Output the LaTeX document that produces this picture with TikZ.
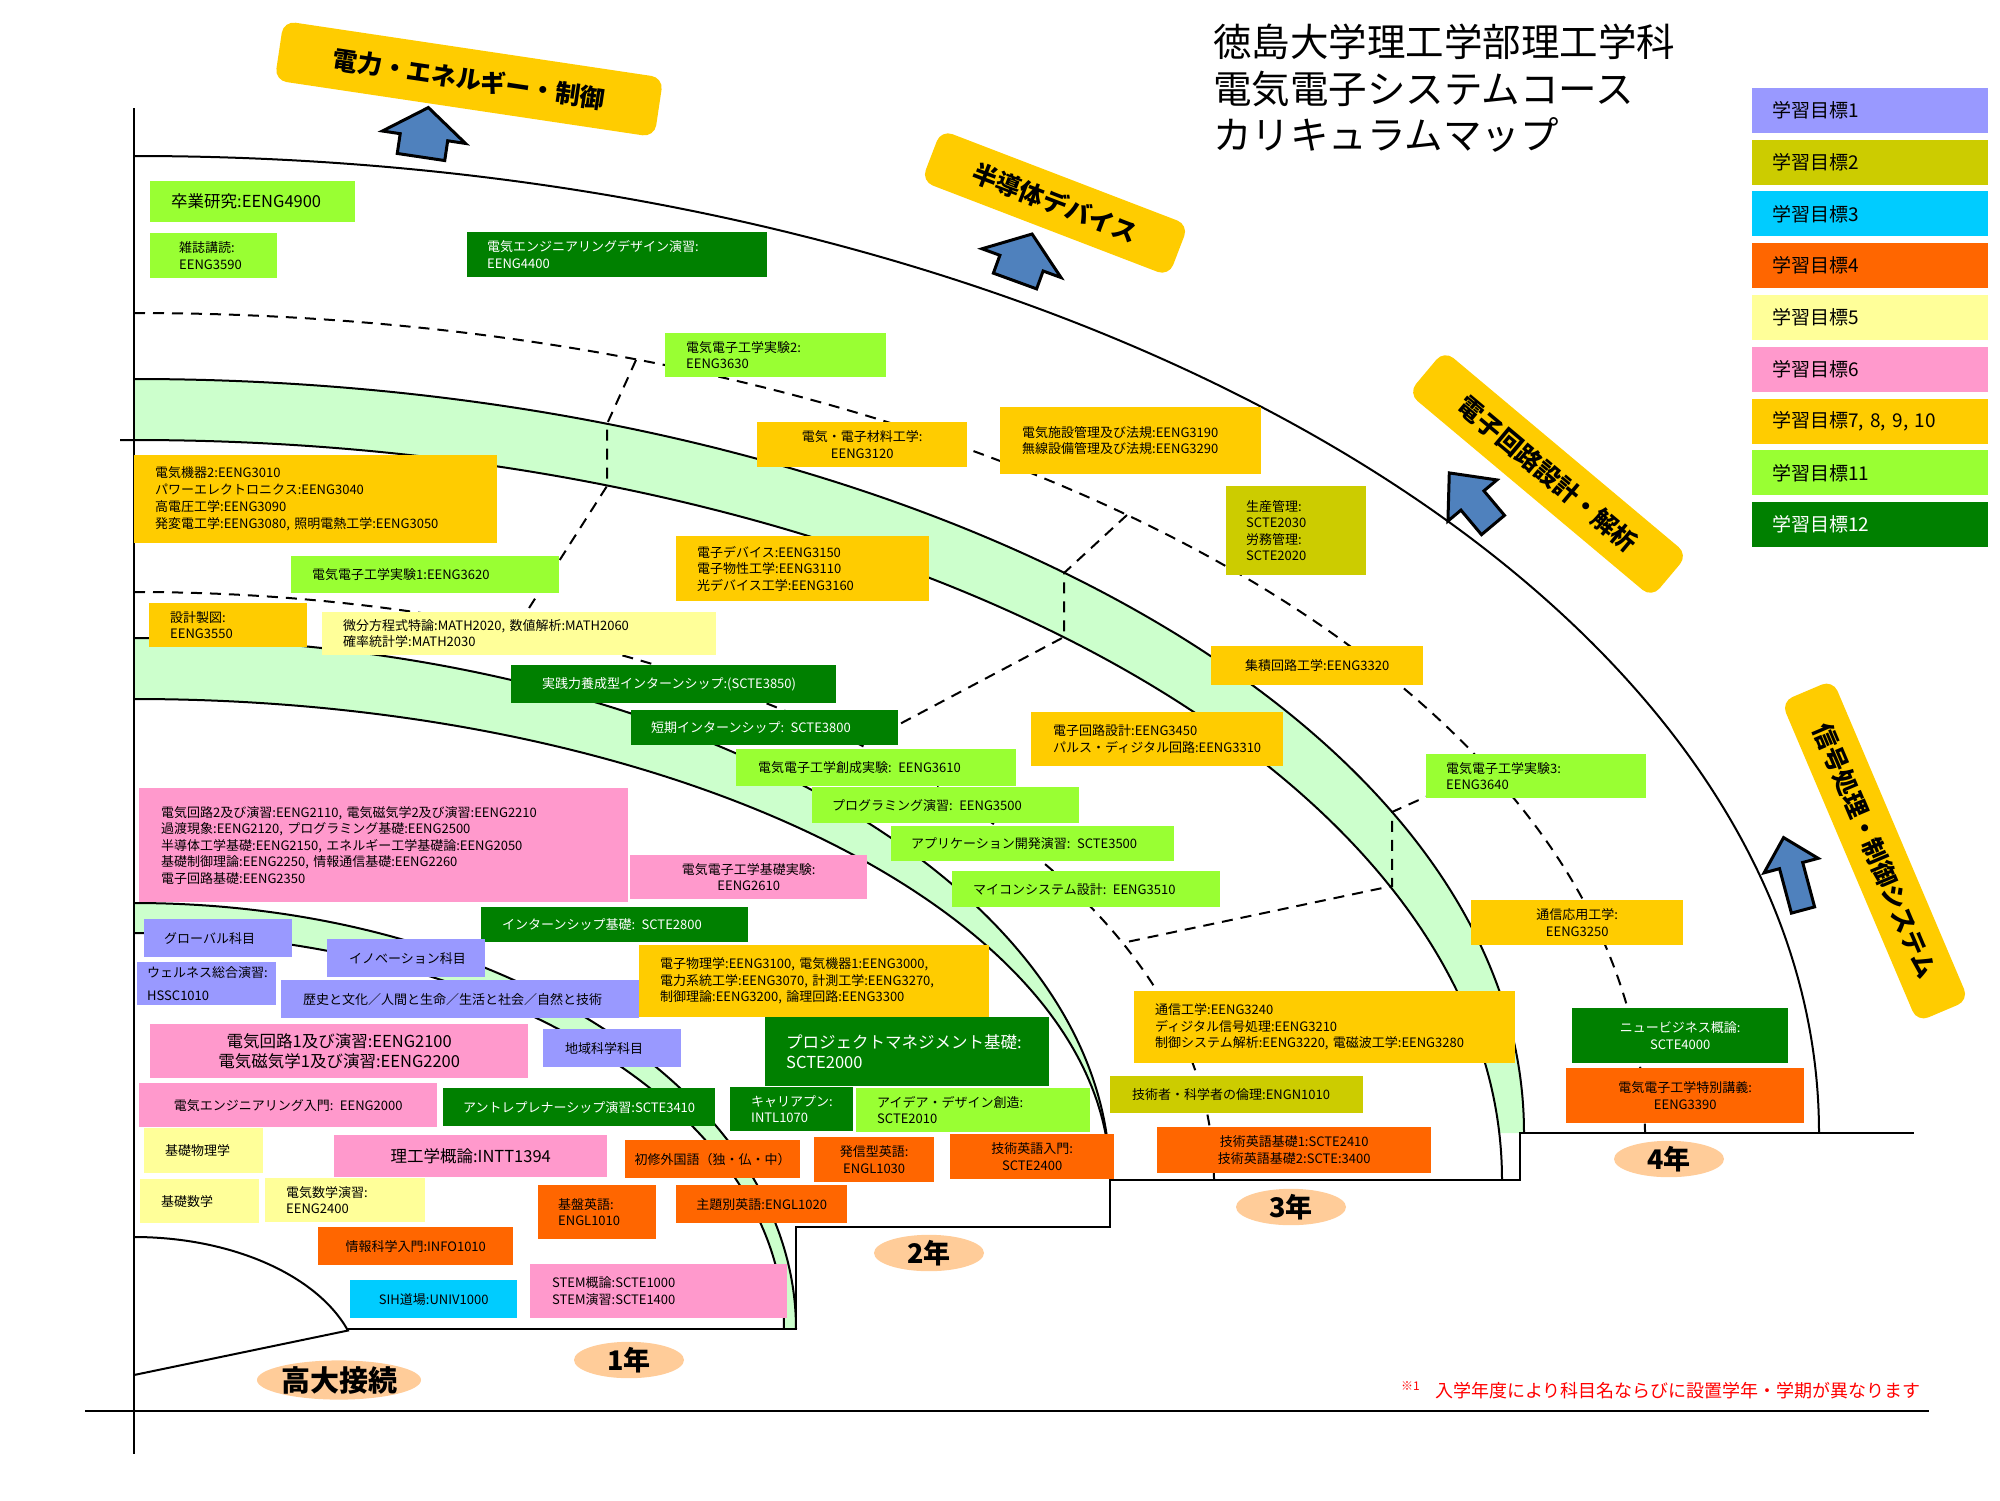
\documentclass[tikz,border=0pt]{standalone}
\usepackage{fontspec}
\setmainfont{Noto Sans CJK JP}
\usepackage{tikz}
\usetikzlibrary{shapes.geometric}

\definecolor{goal1}{HTML}{9999FF}
\definecolor{goal2}{HTML}{CCCC00}
\definecolor{goal3}{HTML}{00CCFF}
\definecolor{goal4}{HTML}{FF6600}
\definecolor{goal5}{HTML}{FFFF99}
\definecolor{goal6}{HTML}{FF99CC}
\definecolor{goal7}{HTML}{FFCC00}
\definecolor{goal11}{HTML}{99FF33}
\definecolor{goal12}{HTML}{008000}
\definecolor{bandgreen}{HTML}{CCFFCC}
\definecolor{yearorange}{HTML}{FFCC99}
\definecolor{arrowblue}{HTML}{4F81BD}

\begin{document}
\begin{tikzpicture}[x=1pt, y=-1pt,
	course/.style={rectangle, anchor=north west, inner ysep=0pt, font=\fontsize{13}{16.5}\selectfont},
	lcourse/.style={course, align=left},
	ccourse/.style={course, align=center, inner xsep=5pt},
	band/.style={fill=bandgreen},
	boundary/.style={line width=2pt},
	divide/.style={line width=2pt, dash pattern=on 11pt off 8pt},
	topic/.style={rectangle, rounded corners=12pt, fill=goal7, inner sep=0pt, font=\fontsize{25}{25}\selectfont\bfseries},
	year/.style={ellipse, fill=yearorange, inner sep=0pt, minimum width=110pt, minimum height=32pt, font=\fontsize{27}{27}\selectfont\bfseries},
	goal/.style={rectangle, anchor=north west, minimum height=45pt, text width=196pt, inner xsep=20pt, inner ysep=0pt, align=left, font=\fontsize{19}{19}\selectfont},
	bluearrow/.style={fill=arrowblue, draw=black, line width=3pt, line join=miter}
	]
	\useasboundingbox (0,0) rectangle (2000,1500);
	
	% 学年の境界帯
	\fill[band] (134,379) arc[start angle=-90, end angle=0, x radius=1390, y radius=754] -- (1499,1133)
		arc[start angle=-3.64, end angle=-90, x radius=1368, y radius=740] -- cycle;
	\fill[band] (134,638) arc[start angle=-90, end angle=0, x radius=976, y radius=542]
		arc[start angle=0, end angle=-90, x radius=976, y radius=481] -- cycle;
	\fill[band] (134,903) arc[start angle=-90, end angle=0, x radius=662, y radius=426] -- (784,1329)
		arc[start angle=0, end angle=-90, x radius=650, y radius=396] -- cycle;
	
	% 弧
	\draw[boundary] (134,156) arc[start angle=-90, end angle=0, x radius=1685, y radius=977];
	\draw[boundary] (134,379) arc[start angle=-90, end angle=0, x radius=1390, y radius=754];
	\draw[boundary] (120,440) -- (134,440) arc[start angle=-90, end angle=0, x radius=1368, y radius=740];
	\draw[boundary] (134,638) arc[start angle=-90, end angle=0, x radius=976, y radius=542];
	\draw[boundary] (134,699) arc[start angle=-90, end angle=0, x radius=976, y radius=481];
	\draw[boundary] (134,903) arc[start angle=-90, end angle=0, x radius=662, y radius=426];
	\draw[boundary] (134,933) arc[start angle=-90, end angle=0, x radius=650, y radius=396];
	\draw[boundary] (134,1237) arc[start angle=-90, end angle=-18.8, x radius=226, y radius=138] -- (134,1375);
	
	% 分野の区切り
	\draw[divide] (134,313) arc[start angle=-90, end angle=0, x radius=1511, y radius=820];
	\draw[divide] (134,592) arc[start angle=-90, end angle=0, x radius=1080, y radius=588];
	\coordinate (r1a) at (636,360); \coordinate (r1b) at (607,424);
	\coordinate (r1c) at (607,486); \coordinate (r1d) at (515,630);
	\coordinate (r2a) at (1127,515); \coordinate (r2b) at (1064,573);
	\coordinate (r2c) at (1064,637); \coordinate (r2d) at (860,745);
	\coordinate (r3a) at (1488,769); \coordinate (r3b) at (1392,812);
	\coordinate (r3c) at (1392,886); \coordinate (r3d) at (1122,943);
	\draw[divide] (r1a) -- (r1b) -- (r1c) -- (r1d);
	\draw[divide] (r2a) -- (r2b) -- (r2c) -- (r2d);
	\draw[divide] (r3a) -- (r3b) -- (r3c) -- (r3d);
	
	% 軸と学年の段
	\draw[line width=2.5pt] (134,108) -- (134,1454);
	\draw[line width=2.5pt] (85,1411) -- (1929,1411);
	\draw[line width=2.5pt] (348,1329) -- (796,1329) -- (796,1227) -- (1110,1227) -- (1110,1180)
		-- (1520,1180) -- (1520,1133) -- (1914,1133);
	
	% 4年
	\node[lcourse, fill=goal11, minimum height=41pt, text width=163pt, inner xsep=21pt, font=\fontsize{16.5}{19}\selectfont] (sotsuken) at (150,181) {卒業研究:EENG4900};
	\node[lcourse, fill=goal11, minimum height=45pt, text width=69pt, inner xsep=29pt] (zasshi) at (150,233) {雑誌講読:\\EENG3590};
	\node[lcourse, fill=goal12, text=white, minimum height=45pt, text width=260pt, inner xsep=20pt] (design) at (467,232) {電気エンジニアリングデザイン演習:\\EENG4400};
	\node[lcourse, fill=goal11, minimum height=44pt, text width=179pt, inner xsep=21pt] (jikken2) at (665,333) {電気電子工学実験2:\\EENG3630};
	\node[ccourse, fill=goal7, minimum height=45pt, text width=200pt] (zairyo) at (757,422) {電気・電子材料工学:\\EENG3120};
	\node[lcourse, fill=goal7, minimum height=67pt, text width=217pt, inner xsep=22pt] (shisetsu) at (1000,407) {電気施設管理及び法規:EENG3190\\無線設備管理及び法規:EENG3290};
	\node[lcourse, fill=goal2, minimum height=89pt, text width=100pt, inner xsep=20pt] (seisan) at (1226,486) {生産管理:\\SCTE2030\\労務管理:\\SCTE2020};
	\node[ccourse, fill=goal7, minimum height=39pt, text width=202pt] (shuseki) at (1211,646) {集積回路工学:EENG3320};
	\node[lcourse, fill=goal7, minimum height=54pt, text width=208pt, inner xsep=22pt] (kairo-sekkei) at (1031,712) {電子回路設計:EENG3450\\パルス・ディジタル回路:EENG3310};
	\node[lcourse, fill=goal11, minimum height=44pt, text width=180pt, inner xsep=20pt] (jikken3) at (1426,754) {電気電子工学実験3:\\EENG3640};
	\node[ccourse, fill=goal7, minimum height=45pt, text width=202pt] (tsushin-oyo) at (1471,900) {通信応用工学:\\EENG3250};
	\node[ccourse, fill=goal12, text=white, minimum height=55pt, text width=206pt] (newbiz) at (1572,1008) {ニュービジネス概論:\\SCTE4000};
	\node[ccourse, fill=goal4, minimum height=55pt, text width=228pt] (tokubetsu) at (1566,1068) {電気電子工学特別講義:\\EENG3390};
	
	% 3年
	\node[lcourse, fill=goal7, minimum height=88pt, text width=321pt, inner xsep=21pt, font=\fontsize{13}{17}\selectfont] (kiki2) at (134,455) {電気機器2:EENG3010\\パワーエレクトロニクス:EENG3040\\高電圧工学:EENG3090\\発変電工学:EENG3080, 照明電熱工学:EENG3050};
	\node[lcourse, fill=goal11, minimum height=37pt, text width=226pt, inner xsep=21pt] (jikken1) at (291,556) {電気電子工学実験1:EENG3620};
	\node[lcourse, fill=goal7, minimum height=65pt, text width=211pt, inner xsep=21pt] (device) at (676,536) {電子デバイス:EENG3150\\電子物性工学:EENG3110\\光デバイス工学:EENG3160};
	\node[lcourse, fill=goal7, minimum height=44pt, text width=116pt, inner xsep=21pt] (seizu) at (149,603) {設計製図:\\EENG3550};
	\node[lcourse, fill=goal5, minimum height=43pt, text width=352pt, inner xsep=21pt] (math-adv) at (322,612) {微分方程式特論:MATH2020, 数値解析:MATH2060\\確率統計学:MATH2030};
	\node[lcourse, fill=goal12, text=white, minimum height=38pt, text width=263pt, inner xsep=31pt] (jissen) at (511,665) {実践力養成型インターンシップ:(SCTE3850)};
	\node[lcourse, fill=goal12, text=white, minimum height=35pt, text width=227pt, inner xsep=20pt] (tanki) at (631,710) {短期インターンシップ: SCTE3800};
	\node[lcourse, fill=goal11, minimum height=37pt, text width=236pt, inner xsep=22pt] (sosei) at (736,749) {電気電子工学創成実験: EENG3610};
	\node[lcourse, fill=goal11, minimum height=36pt, text width=227pt, inner xsep=20pt] (program) at (812,787) {プログラミング演習: EENG3500};
	\node[lcourse, fill=goal11, minimum height=35pt, text width=243pt, inner xsep=20pt] (appli) at (891,826) {アプリケーション開発演習: SCTE3500};
	\node[lcourse, fill=goal11, minimum height=36pt, text width=226pt, inner xsep=21pt] (maicon) at (952,871) {マイコンシステム設計: EENG3510};
	\node[lcourse, fill=goal7, minimum height=72pt, text width=339pt, inner xsep=21pt] (tsushin) at (1134,991) {通信工学:EENG3240\\ディジタル信号処理:EENG3210\\制御システム解析:EENG3220, 電磁波工学:EENG3280};
	\node[lcourse, fill=goal2, minimum height=37pt, text width=209pt, inner xsep=22pt] (rinri) at (1110,1076) {技術者・科学者の倫理:ENGN1010};
	\node[ccourse, fill=goal4, minimum height=46pt, text width=264pt] (eigo-kiso) at (1157,1127) {技術英語基礎1:SCTE2410\\技術英語基礎2:SCTE:3400};
	
	% 2年
	\node[lcourse, fill=goal6, minimum height=114pt, text width=445pt, inner xsep=22pt] (kairo2) at (139,788) {電気回路2及び演習:EENG2110, 電気磁気学2及び演習:EENG2210\\過渡現象:EENG2120, プログラミング基礎:EENG2500\\半導体工学基礎:EENG2150, エネルギー工学基礎論:EENG2050\\基礎制御理論:EENG2250, 情報通信基礎:EENG2260\\電子回路基礎:EENG2350};
	\node[ccourse, fill=goal6, minimum height=44pt, text width=227pt] (kiso-jikken) at (630,855) {電気電子工学基礎実験:\\EENG2610};
	\node[lcourse, fill=goal12, text=white, minimum height=35pt, text width=225pt, inner xsep=21pt] (intern-kiso) at (481,907) {インターンシップ基礎: SCTE2800};
	\node[lcourse, fill=goal7, minimum height=72pt, text width=308pt, inner xsep=21pt] (butsuri) at (639,945) {電子物理学:EENG3100, 電気機器1:EENG3000,\\電力系統工学:EENG3070, 計測工学:EENG3270,\\制御理論:EENG3200, 論理回路:EENG3300};
	\node[lcourse, fill=goal12, text=white, minimum height=69pt, text width=242pt, inner xsep=21pt, font=\fontsize{16.5}{20}\selectfont] (pm) at (765,1017) {プロジェクトマネジメント基礎:\\SCTE2000};
	\node[lcourse, fill=goal12, text=white, minimum height=44pt, text width=81pt, inner xsep=21pt] (career) at (730,1087) {キャリアプン:\\INTL1070};
	\node[lcourse, fill=goal11, minimum height=44pt, text width=192pt, inner xsep=21pt] (idea) at (856,1088) {アイデア・デザイン創造:\\SCTE2010};
	\node[ccourse, fill=goal4, minimum height=45pt, text width=154pt] (eigo-nyumon) at (950,1134) {技術英語入門:\\SCTE2400};
	\node[ccourse, fill=goal4, minimum height=45pt, text width=110pt] (hasshin) at (814,1137) {発信型英語:\\ENGL1030};
	\node[ccourse, fill=goal4, minimum height=38pt, text width=165pt] (shoshu) at (625,1140) {初修外国語（独・仏・中）};
	\node[ccourse, fill=goal4, minimum height=38pt, text width=161pt] (shudai) at (676,1185) {主題別英語:ENGL1020};
	\node[lcourse, fill=goal4, minimum height=54pt, text width=78pt, inner xsep=20pt] (kiban) at (538,1185) {基盤英語:\\ENGL1010};
	
	% 1年
	\node[lcourse, fill=goal1, minimum height=38pt, text width=108pt, inner xsep=20pt] (global) at (144,919) {グローバル科目};
	\node[lcourse, fill=goal1, minimum height=43pt, text width=119pt, inner xsep=10pt] (wellness) at (137,962) {ウェルネス総合演習:\\[7pt]HSSC1010};
	\node[lcourse, fill=goal1, minimum height=38pt, text width=114pt, inner xsep=22pt] (innov) at (327,939) {イノベーション科目};
	\node[lcourse, fill=goal1, minimum height=38pt, text width=314pt, inner xsep=22pt] (rekishi) at (281,980) {歴史と文化／人間と生命／生活と社会／自然と技術};
	\node[ccourse, fill=goal6, minimum height=54pt, text width=368pt, font=\fontsize{16.5}{20}\selectfont] (kairo1) at (150,1024) {電気回路1及び演習:EENG2100\\電気磁気学1及び演習:EENG2200};
	\node[lcourse, fill=goal1, minimum height=38pt, text width=94pt, inner xsep=22pt] (chiiki) at (543,1029) {地域科学科目};
	\node[ccourse, fill=goal6, minimum height=44pt, text width=288pt] (eng-nyumon) at (139,1083) {電気エンジニアリング入門: EENG2000};
	\node[ccourse, fill=goal12, text=white, minimum height=38pt, text width=262pt] (entre) at (443,1088) {アントレプレナーシップ演習:SCTE3410};
	\node[lcourse, fill=goal5, minimum height=45pt, text width=77pt, inner xsep=21pt] (butsuri-kiso) at (144,1128) {基礎物理学};
	\node[ccourse, fill=goal6, minimum height=42pt, text width=263pt, font=\fontsize{16.5}{20}\selectfont] (gairon) at (334,1135) {理工学概論:INTT1394};
	\node[lcourse, fill=goal5, minimum height=44pt, text width=77pt, inner xsep=21pt] (sugaku) at (140,1179) {基礎数学};
	\node[lcourse, fill=goal5, minimum height=44pt, text width=118pt, inner xsep=21pt] (sugaku-enshu) at (265,1178) {電気数学演習:\\EENG2400};
	\node[ccourse, fill=goal4, minimum height=38pt, text width=185pt] (joho) at (318,1227) {情報科学入門:INFO1010};
	\node[ccourse, fill=goal3, minimum height=38pt, text width=157pt] (sih) at (350,1280) {SIH道場:UNIV1000};
	\node[lcourse, fill=goal6, minimum height=54pt, text width=213pt, inner xsep=22pt] (stem) at (530,1264) {STEM概論:SCTE1000\\STEM演習:SCTE1400};
	
	% 分野
	\node[topic, minimum width=384pt, minimum height=60pt, rotate=-8.5] (topic-power) at (469,79) {電力・エネルギー・制御};
	\node[topic, minimum width=265pt, minimum height=55pt, rotate=-21] (topic-device) at (1055,203) {半導体デバイス};
	\node[topic, minimum width=318pt, minimum height=56pt, rotate=-40] (topic-circuit) at (1548,474) {電子回路設計・解析};
	\node[topic, minimum width=348pt, minimum height=56pt, rotate=-67] (topic-signal) at (1875,851) {信号処理・制御システム};
	
	\begin{scope}[shift={(421,157)}, rotate=-8.5]
		\draw[bluearrow] (-24,0) -- (24,0) -- (24,-20) -- (42,-20) -- (0,-50) -- (-42,-20) -- (-24,-20) -- cycle;
	\end{scope}
	\begin{scope}[shift={(1015,281)}, rotate=-20]
		\draw[bluearrow] (-23,0) -- (23,0) -- (23,-19) -- (42,-19) -- (0,-50) -- (-42,-19) -- (-23,-19) -- cycle;
	\end{scope}
	\begin{scope}[shift={(1493,525)}, rotate=40]
		\draw[bluearrow] (-15,0) -- (15,0) -- (15,-32) -- (32,-32) -- (0,-68) -- (-32,-32) -- (-15,-32) -- cycle;
	\end{scope}
	\begin{scope}[shift={(1803,910)}, rotate=15]
		\draw[bluearrow] (-12,0) -- (12,0) -- (12,-46) -- (28,-46) -- (0,-75) -- (-28,-46) -- (-12,-46) -- cycle;
	\end{scope}
	
	% 学年
	\node[year, minimum width=126pt, minimum height=36pt, font=\fontsize{29}{29}\selectfont\bfseries] (year-0) at (339,1380) {高大接続};
	\node[year] (year-1) at (629,1360) {1年};
	\node[year] (year-2) at (929,1253) {2年};
	\node[year] (year-3) at (1291,1207) {3年};
	\node[year] (year-4) at (1669,1159) {4年};
	
	% 学習目標
	\foreach \col/\tc/\txt [count=\i] in {goal1/black/学習目標1, goal2/black/学習目標2, goal3/black/学習目標3, goal4/black/学習目標4, goal5/black/学習目標5, goal6/black/学習目標6, goal7/black/{学習目標7, 8, 9, 10}, goal11/black/学習目標11, goal12/white/学習目標12} {
		\node[goal, fill=\col, text=\tc] (goal-\i) at (1752, {87.5+51.8*(\i-1)}) {\txt};
	}
	
	% 表題と注記
	\node[anchor=north west, inner sep=0pt, align=left, font=\fontsize{38.5}{46.5}\selectfont] (title) at (1213,24) {徳島大学理工学部理工学科\\電気電子システムコース\\カリキュラムマップ};
	\node[anchor=base west, inner sep=0pt, text=red, font=\fontsize{18}{18}\selectfont] (note) at (1435,1397) {入学年度により科目名ならびに設置学年・学期が異なります};
	\node[anchor=base east, inner sep=0pt, text=red, font=\fontsize{12}{12}\selectfont] (note-mark) at (1420,1390) {※1};
\end{tikzpicture}
\end{document}
